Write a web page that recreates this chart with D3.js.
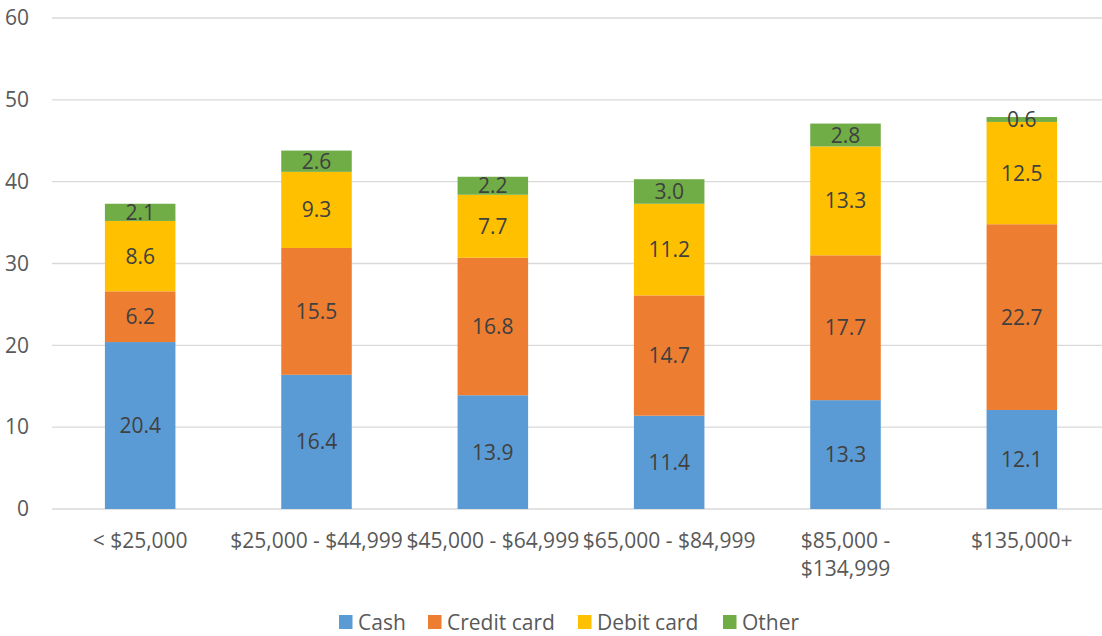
<!DOCTYPE html>
<html><head><meta charset="utf-8">
<script src="https://cdn.jsdelivr.net/npm/d3@7"></script>
<style>body{margin:0;background:#fff;}svg{display:block;font-family:"Open Sans",sans-serif;}</style>
</head><body><svg id="c" width="1102" height="636"></svg>
<script>
const categories = ["< $25,000","$25,000 - $44,999","$45,000 - $64,999","$65,000 - $84,999","$85,000 - $134,999","$135,000+"];
const categoryLines = [["< $25,000"],["$25,000 - $44,999"],["$45,000 - $64,999"],["$65,000 - $84,999"],["$85,000 -","$134,999"],["$135,000+"]];
const seriesNames = ["Cash","Credit card","Debit card","Other"];
const cash = [20.4,16.4,13.9,11.4,13.3,12.1];
const credit = [6.2,15.5,16.8,14.7,17.7,22.7];
const debit = [8.6,9.3,7.7,11.2,13.3,12.5];
const other = [2.1,2.6,2.2,3.0,2.8,0.6];
const colors = ["#5B9BD5","#ED7D31","#FFC000","#70AD47"];
const yTicks = [0,10,20,30,40,50,60];

const rows = categories.map((c,i)=>({cat:c,Cash:cash[i],"Credit card":credit[i],"Debit card":debit[i],Other:other[i]}));
const stack = d3.stack().keys(seriesNames)(rows);

const svg = d3.select("#c");
const x = d3.scaleBand().domain(categories).range([52,1110]).padding(0);
const y = d3.scaleLinear().domain([0,60]).range([509,18]);
const bw = x.bandwidth()*0.4;
const FS = "21px";

// gridlines
svg.append("g").selectAll("line").data(yTicks).join("line")
  .attr("x1",52).attr("x2",1110).attr("y1",d=>y(d)).attr("y2",d=>y(d))
  .attr("stroke","#d9d9d9").attr("stroke-width",1.3);

// y axis labels
const yAxis = d3.axisLeft(y).tickValues(yTicks).tickSize(0).tickPadding(0);
const gy = svg.append("g").attr("transform","translate(29,0)").call(yAxis);
gy.select(".domain").remove();
gy.selectAll("text").attr("fill","#595959").style("font-size",FS).style("font-family","'Open Sans',sans-serif");

// bars
const layers = svg.append("g").selectAll("g").data(stack).join("g").attr("fill",(d,i)=>colors[i]);
layers.selectAll("rect").data(d=>d).join("rect")
  .attr("x",d=>x(d.data.cat)+(x.bandwidth()-bw)/2)
  .attr("width",bw)
  .attr("y",d=>y(d[1]))
  .attr("height",d=>y(d[0])-y(d[1]));

// data labels
const lab = svg.append("g");
stack.forEach((s,si)=>{
  lab.selectAll(null).data(s).join("text")
    .attr("x",d=>x(d.data.cat)+x.bandwidth()/2)
    .attr("y",d=>(y(d[0])+y(d[1]))/2)
    .attr("dy","0.36em").attr("text-anchor","middle")
    .attr("fill","#404040").style("font-size",FS)
    .text(d=>(d[1]-d[0]).toFixed(1));
});

// x axis labels
const xl = svg.append("g");
categories.forEach((c,i)=>{
  const t = xl.append("text").attr("x",x(c)+x.bandwidth()/2).attr("y",548)
    .attr("text-anchor","middle").attr("fill","#595959").style("font-size",FS);
  categoryLines[i].forEach((ln,j)=>t.append("tspan").attr("x",x(c)+x.bandwidth()/2).attr("dy",j?28:0).text(ln));
});

// legend
const legX = [339,428,578,723];
const lg = svg.append("g");
seriesNames.forEach((n,i)=>{
  lg.append("rect").attr("x",legX[i]).attr("y",615).attr("width",13.5).attr("height",14).attr("fill",colors[i]);
  lg.append("text").attr("x",legX[i]+19).attr("y",630).attr("fill","#595959").style("font-size",FS).text(n);
});
</script></body></html>
